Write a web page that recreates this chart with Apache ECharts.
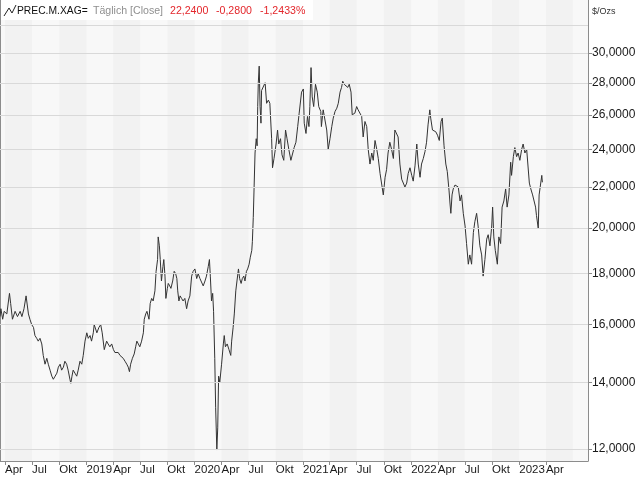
<!DOCTYPE html>
<html><head><meta charset="utf-8">
<script src="https://cdn.jsdelivr.net/npm/echarts@6/dist/echarts.min.js"></script>
<style>html,body{margin:0;padding:0;background:#fff}#c{width:640px;height:480px}</style>
</head><body><div id="c"></div><script>
// ---------- data ----------
const dates2018 = ["2018-03-15","2018-03-18","2018-03-24","2018-03-29","2018-04-07","2018-04-16","2018-04-20","2018-04-26","2018-05-05","2018-05-13","2018-05-22","2018-05-28","2018-06-04","2018-06-11","2018-06-19","2018-06-24","2018-06-30","2018-07-06","2018-07-11","2018-07-17","2018-07-22","2018-07-28","2018-08-03","2018-08-08","2018-08-14","2018-08-20","2018-08-25","2018-08-31","2018-09-06","2018-09-11","2018-09-17","2018-09-23","2018-09-28","2018-10-04","2018-10-09","2018-10-15","2018-10-20","2018-10-26","2018-10-31","2018-11-06","2018-11-09","2018-11-13","2018-11-17","2018-11-23","2018-11-29","2018-12-04","2018-12-10","2018-12-16","2018-12-21","2018-12-27"];
const close2018 = [16.3,16.6,16.2,16.5, 16.4,17.2,16.8,16.2, 16.5,16.3,16.5,16.3, 16.6,17.1,16.4,16.2,16.0, 15.9,15.6,15.5,15.4,15.5, 15.3,14.9,14.6,14.8,14.6,14.4, 14.2,14.1,14.2,14.3,14.5, 14.6,14.4,14.5,14.7,14.6,14.4, 14.1,13.97,14.2,14.4,14.3,14.2, 14.4,14.7,14.6,14.9,15.4];

const dates2019 = ["2019-01-02","2019-01-07","2019-01-13","2019-01-18","2019-01-24","2019-01-27","2019-02-05","2019-02-12","2019-02-18","2019-02-23","2019-03-02","2019-03-10","2019-03-15","2019-03-21","2019-03-27","2019-04-02","2019-04-07","2019-04-13","2019-04-18","2019-04-24","2019-04-30","2019-05-05","2019-05-11","2019-05-17","2019-05-22","2019-05-26","2019-05-30","2019-06-05","2019-06-11","2019-06-16","2019-06-20","2019-06-25","2019-06-30","2019-07-06","2019-07-12","2019-07-15","2019-07-20","2019-07-24","2019-07-31","2019-08-04","2019-08-09","2019-08-14","2019-08-20","2019-08-24","2019-08-29","2019-08-31","2019-09-04","2019-09-07","2019-09-11","2019-09-16","2019-09-19","2019-09-23","2019-09-26","2019-10-01","2019-10-04","2019-10-09","2019-10-13","2019-10-19","2019-10-24","2019-10-29","2019-11-02","2019-11-05","2019-11-09","2019-11-13","2019-11-18","2019-11-23","2019-11-29","2019-12-05","2019-12-10","2019-12-16","2019-12-22","2019-12-27"];
const close2019 = [15.7,15.5,15.6,15.4,15.7,16.0, 15.7,15.9,16.0,15.7, 15.1,15.4,15.3,15.2,15.3, 15.1,15.0,14.95,15.0,14.9,14.95, 14.8,14.7,14.6,14.5,14.35,14.6, 14.8,14.95,15.2,15.4,15.3,15.2, 15.4,15.7,16.2,16.4,16.5,16.2, 16.8,17.0,16.9,17.3,18.1,18.6,19.6, 19.2,18.6,17.7,18.3,18.6,17.9,17.0, 17.4,17.6,17.5,17.4,17.7,18.1,18.0, 17.8,17.3,16.9,17.1,17.0,16.9,17.0, 16.6,16.9,17.1,17.9,18.1];

const dates2020 = ["2020-01-02","2020-01-08","2020-01-13","2020-01-19","2020-01-24","2020-01-30","2020-02-05","2020-02-10","2020-02-16","2020-02-20","2020-02-23","2020-02-27","2020-03-02","2020-03-05","2020-03-09","2020-03-12","2020-03-16","2020-03-19","2020-03-22","2020-03-26","2020-04-01","2020-04-07","2020-04-10","2020-04-14","2020-04-20","2020-04-26","2020-05-02","2020-05-05","2020-05-10","2020-05-14","2020-05-19","2020-05-23","2020-05-28","2020-06-01","2020-06-06","2020-06-10","2020-06-15","2020-06-19","2020-06-24","2020-06-28","2020-07-03","2020-07-07","2020-07-12","2020-07-14","2020-07-17","2020-07-20","2020-07-23","2020-07-27","2020-07-30","2020-08-01","2020-08-03","2020-08-06","2020-08-09","2020-08-12","2020-08-14","2020-08-20","2020-08-26","2020-08-31","2020-09-06","2020-09-11","2020-09-14","2020-09-17","2020-09-20","2020-09-25","2020-10-02","2020-10-07","2020-10-11","2020-10-17","2020-10-22","2020-10-28","2020-11-03","2020-11-08","2020-11-14","2020-11-21","2020-11-27","2020-12-02","2020-12-08","2020-12-14","2020-12-19","2020-12-27"];
const close2020 = [18.2,17.8,18.0,17.8,17.8,17.5, 17.7,17.9,18.3,18.6,17.9,16.9, 17.2,16.5,14.8,13.2,11.97,12.6,14.2,14.0, 14.6,15.3,15.6,15.2,15.3,15.1, 14.9,15.4,15.9,16.4,17.3,17.7,18.2, 17.8,17.6,17.8,17.9,17.7,18.1,18.2, 18.4,18.7,19.0,19.4,20.5,22.1,23.8,24.6,24.2, 26.5,28.0,29.1,26.5,25.5,27.5,27.4,28.0,26.7, 26.9,26.7,26.6,24.6,23.0,23.5, 24.3,25.1,24.3,24.6,23.7,23.4, 25.1,24.6,24.0,23.4,23.5, 24.1,24.4,25.3,26.1,27.4];

const dates2021 = ["2021-01-02","2021-01-05","2021-01-11","2021-01-16","2021-01-21","2021-01-24","2021-01-28","2021-02-01","2021-02-06","2021-02-12","2021-02-18","2021-02-23","2021-03-02","2021-03-04","2021-03-10","2021-03-16","2021-03-22","2021-03-27","2021-04-02","2021-04-08","2021-04-13","2021-04-19","2021-04-25","2021-04-30","2021-05-06","2021-05-11","2021-05-15","2021-05-20","2021-05-25","2021-06-01","2021-06-06","2021-06-12","2021-06-16","2021-06-22","2021-06-25","2021-07-01","2021-07-06","2021-07-12","2021-07-18","2021-07-23","2021-07-29","2021-08-04","2021-08-09","2021-08-15","2021-08-21","2021-08-26","2021-09-01","2021-09-07","2021-09-12","2021-09-18","2021-09-23","2021-09-29","2021-10-05","2021-10-10","2021-10-15","2021-10-21","2021-10-27","2021-11-02","2021-11-07","2021-11-13","2021-11-18","2021-11-24","2021-11-30","2021-12-05","2021-12-11","2021-12-17","2021-12-22","2021-12-28"];
const close2021 = [27.6,25.5,24.9,25.9,25.3,26.5,29.0, 27.1,26.5,27.9,27.4,26.5, 26.2,25.3,26.3,26.2,25.1,24.0, 24.6,25.3,25.8,26.2,26.4,26.7, 27.4,27.7,28.1,27.9,28.0, 27.7,27.9,27.4,26.0,25.9,26.1, 26.5,26.3,26.4,25.9,24.7,25.6, 25.3,24.0,23.2,23.8,23.4, 24.5,24.0,23.5,22.7,22.6,21.6, 22.5,22.9,23.8,24.4,24.0, 23.5,25.1,25.0,24.7,23.2,22.4, 22.5,22.0,22.2,22.7,23.0];

const dates2022 = ["2022-01-03","2022-01-08","2022-01-14","2022-01-20","2022-01-25","2022-01-31","2022-02-05","2022-02-11","2022-02-17","2022-02-22","2022-02-27","2022-03-05","2022-03-08","2022-03-14","2022-03-19","2022-03-25","2022-03-31","2022-04-06","2022-04-12","2022-04-16","2022-04-22","2022-04-28","2022-05-03","2022-05-09","2022-05-12","2022-05-15","2022-05-19","2022-05-23","2022-05-29","2022-06-04","2022-06-09","2022-06-15","2022-06-20","2022-06-26","2022-07-02","2022-07-07","2022-07-13","2022-07-18","2022-07-24","2022-07-30","2022-08-04","2022-08-10","2022-08-15","2022-08-21","2022-08-27","2022-09-01","2022-09-07","2022-09-13","2022-09-18","2022-09-24","2022-09-30","2022-10-03","2022-10-07","2022-10-12","2022-10-19","2022-10-24","2022-10-30","2022-11-04","2022-11-10","2022-11-16","2022-11-21","2022-11-27","2022-12-03","2022-12-06","2022-12-12","2022-12-17","2022-12-23","2022-12-28"];
const close2022 = [22.6,22.3,23.1,24.3,23.2,22.5, 23.2,23.5,23.9,24.4,25.4, 26.3,25.8,25.1,25.2,25.0,24.8, 24.5,25.6,25.8,24.2,23.2, 22.8,21.8,21.2,20.7,21.6,21.9,22.1, 22.2,22.0,21.3,21.6,20.7, 20.1,19.3,18.4,18.8,18.4,19.8, 20.3,20.7,20.1,19.2,18.8, 17.9,18.6,19.5,19.7,19.2,20.1, 21.0,19.6,19.0,18.4,19.6,19.3, 21.0,21.3,21.9,21.0,21.6, 23.3,22.6,23.6,24.1,23.6,23.8];

const dates2023 = ["2023-01-03","2023-01-09","2023-01-14","2023-01-20","2023-01-26","2023-01-31","2023-02-04","2023-02-09","2023-02-15","2023-02-20","2023-02-25","2023-02-28","2023-03-06","2023-03-09","2023-03-14","2023-03-18","2023-03-20"];
const close2023 = [23.4,24.0,24.3,23.8,24.0,23.9, 22.2,21.9,21.6,21.7,21.0,20.6, 20.0,21.6,21.7,22.6,22.24];

// axis values and labels
const quarterTicks = ["2018-04-01","2018-07-01","2018-10-01","2019-01-01","2019-04-01","2019-07-01","2019-10-01","2020-01-01","2020-04-01","2020-07-01","2020-10-01","2021-01-01","2021-04-01","2021-07-01","2021-10-01","2022-01-01","2022-04-01","2022-07-01","2022-10-01","2023-01-01","2023-04-01"];
const monthLabels = ["Jan","Feb","Mär","Apr","Mai","Jun","Jul","Aug","Sep","Okt","Nov","Dez"];
const shadedQuarters = [["2018-04-01","2018-07-01"],["2018-10-01","2019-01-01"],["2019-04-01","2019-07-01"],["2019-10-01","2020-01-01"],["2020-04-01","2020-07-01"],["2020-10-01","2021-01-01"],["2021-04-01","2021-07-01"],["2021-10-01","2022-01-01"],["2022-04-01","2022-07-01"],["2022-10-01","2023-01-01"],["2023-04-01","2023-07-01"]];
const yTickValues = [12,14,16,18,20,22,24,26,28,30];
const gridValues = [12,14,16,18,20,22,24,26,28,30,32];
const xRange = ["2018-03-15","2023-08-21"];
const yRange = [11.67, 33.91];
const header = {symbol:"PREC.M.XAG=", mode:"Täglich [Close]", last:"22,2400", change:"-0,2800", pct:"-1,2433%"};
const unitLabel = "$/Ozs";

// ---------- build ----------
const FONT = '"Liberation Sans", Arial, sans-serif';
const toTs = s => { const p = s.split('-').map(Number); return new Date(p[0], p[1]-1, p[2]).getTime(); };
const dates = [].concat(dates2018, dates2019, dates2020, dates2021, dates2022, dates2023);
const closes = [].concat(close2018, close2019, close2020, close2021, close2022, close2023);
const seriesData = dates.map((d, i) => [toTs(d), closes[i]]);
const tickTs = quarterTicks.map(toTs);
const bands = shadedQuarters.map(q => [{xAxis: toTs(q[0])}, {xAxis: toTs(q[1])}]);
const lnTicks = yTickValues.map(v => Math.log(v));

const chart = echarts.init(document.getElementById('c'), null, {renderer: 'canvas'});
chart.setOption({
  animation: false,
  backgroundColor: '#ffffff',
  grid: {left: 0, right: 52, top: 0, bottom: 19, show: true, backgroundColor: '#f8f8f8', borderWidth: 0},
  xAxis: {
    type: 'value', min: toTs(xRange[0]), max: toTs(xRange[1]),
    axisLine: {show: true, onZero: false, lineStyle: {color: '#8c8c8c', width: 1}},
    axisTick: {show: true, customValues: tickTs, length: 4, lineStyle: {color: '#8c8c8c'}},
    axisLabel: {
      customValues: tickTs,
      formatter: v => { const d = new Date(Math.round(v)); return d.getMonth() === 0 ? String(d.getFullYear()) : monthLabels[d.getMonth()]; },
      align: 'left', margin: 3, fontSize: 11.5, color: '#1a1a1a', fontFamily: FONT, hideOverlap: false
    },
    splitLine: {show: false}, splitArea: {show: false}
  },
  yAxis: [
    {type: 'log', logBase: 10, min: yRange[0], max: yRange[1], position: 'left',
     axisLine: {show: true, lineStyle: {color: '#8c8c8c'}}, axisTick: {show: false}, axisLabel: {show: false},
     splitLine: {show: false}},
    {type: 'value', min: Math.log(yRange[0]), max: Math.log(yRange[1]), position: 'right',
     axisLine: {show: true, lineStyle: {color: '#8c8c8c'}},
     axisTick: {show: true, length: 4, customValues: lnTicks, lineStyle: {color: '#8c8c8c'}},
     axisLabel: {customValues: lnTicks, formatter: v => Math.exp(v).toFixed(4).replace('.', ','),
       fontSize: 12, color: '#1a1a1a', fontFamily: FONT, margin: 4},
     splitLine: {show: false}}
  ],
  series: [
    {type: 'line', yAxisIndex: 0, data: [seriesData[0]], symbol: 'none', lineStyle: {opacity: 0}, z: 1, silent: true,
     markArea: {silent: true, itemStyle: {color: '#f2f2f2'}, data: bands},
     markLine: {silent: true, symbol: ['none', 'none'], label: {show: false},
       lineStyle: {color: '#d9d9d9', type: 'solid', width: 1},
       data: gridValues.map(v => ({yAxis: v}))}},
    {type: 'line', yAxisIndex: 0, data: seriesData, symbol: 'none', showSymbol: false, z: 3,
     lineStyle: {color: '#333333', width: 1}}
  ],
  graphic: [
    {type: 'rect', z: 100, shape: {x: 1, y: 0, width: 312, height: 20}, style: {fill: '#ffffff'}},
    {type: 'polyline', z: 101, shape: {points: [[4,16],[9,8],[12,13],[16,5]]}, style: {stroke: '#222', lineWidth: 1, fill: null}},
    {type: 'text', z: 101, x: 17, y: 11, style: {text: header.symbol, fill: '#111', font: '10.3px ' + FONT, verticalAlign: 'middle'}},
    {type: 'text', z: 101, x: 93, y: 11, style: {text: header.mode, fill: '#8f8f8f', font: '10.6px ' + FONT, verticalAlign: 'middle'}},
    {type: 'text', z: 101, x: 170, y: 11, style: {text: header.last, fill: '#e3262b', font: '10.6px ' + FONT, verticalAlign: 'middle'}},
    {type: 'text', z: 101, x: 216, y: 11, style: {text: header.change, fill: '#e3262b', font: '10.6px ' + FONT, verticalAlign: 'middle'}},
    {type: 'text', z: 101, x: 260, y: 11, style: {text: header.pct, fill: '#e3262b', font: '10.6px ' + FONT, verticalAlign: 'middle'}},
    {type: 'text', z: 101, x: 592, y: 12, style: {text: unitLabel, fill: '#333', font: '9px ' + FONT, verticalAlign: 'middle'}}
  ]
});
</script></body></html>
